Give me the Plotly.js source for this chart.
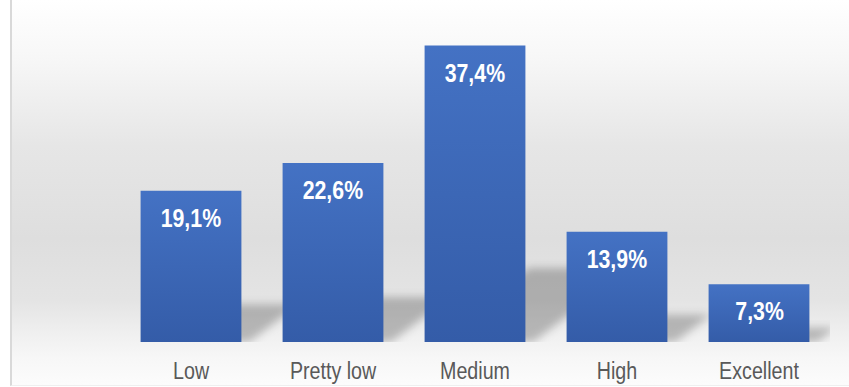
<!DOCTYPE html>
<html>
<head>
<meta charset="utf-8">
<script src="https://cdn.plot.ly/plotly-3.0.1.min.js"></script>
<style>
  html, body { margin: 0; padding: 0; background: #ffffff; }
  #bg {
    position: absolute; left: 10px; top: 0; width: 837px; height: 385px;
    border-left: 2px solid #d9d9d9; border-bottom: 1px solid #efefef;
    background: linear-gradient(to bottom, #ffffff 0%, #f7f7f7 15%, #e6e6e6 38%, #dedede 62%, #e4e4e4 78%, #f0f0f0 87%, #f7f7f7 93%, #fcfcfc 100%);
  }
  #chart { position: absolute; left: 0; top: 0; width: 849px; height: 387px; }
</style>
</head>
<body>
<div id="bg"></div>
<div id="chart"></div>
<script>
const categories = ["Low", "Pretty low", "Medium", "High", "Excellent"];
const values = [19.1, 22.6, 37.4, 13.9, 7.3];

const FONT = "'Liberation Sans', Arial, sans-serif";
const NARROW = 0.82;
const fmt = v => v.toFixed(1).replace('.', ',') + '%';

const trace = {
  type: 'bar',
  x: categories,
  y: values,
  marker: { color: '#3d69b9', line: { width: 0 } },
  hoverinfo: 'none'
};

const annotations = categories.map((c, i) => ({
  x: c, y: values[i], xref: 'x', yref: 'y',
  text: fmt(values[i]), showarrow: false,
  yanchor: 'top', xanchor: 'center', yshift: -10,
  font: { family: FONT, size: 26, color: '#ffffff', weight: 'bold' }
}));

const layout = {
  width: 849, height: 387,
  margin: { l: 120, r: 19, t: 25, b: 45 },
  paper_bgcolor: 'rgba(0,0,0,0)',
  plot_bgcolor: 'rgba(0,0,0,0)',
  bargap: 0.29,
  showlegend: false,
  xaxis: {
    showgrid: false, zeroline: false, showline: false, ticks: '',
    tickfont: { family: FONT, size: 24, color: '#595959' },
    ticklabelstandoff: 12
  },
  yaxis: {
    range: [0, 40], showgrid: false, zeroline: false, showline: false,
    showticklabels: false, ticks: ''
  },
  annotations: annotations
};

function narrowText(el) {
  const b = el.getBBox();
  const cx = b.x + b.width / 2;
  const prev = el.getAttribute('transform') || '';
  el.setAttribute('transform', `${prev} translate(${cx},0) scale(${NARROW},1) translate(${-cx},0)`.trim());
}

Plotly.newPlot('chart', [trace], layout, { staticPlot: true, displayModeBar: false }).then(gd => {
  const svgNS = 'http://www.w3.org/2000/svg';
  const svg = gd.querySelector('svg.main-svg');
  let defs = svg.querySelector('defs');
  if (!defs) { defs = document.createElementNS(svgNS, 'defs'); svg.insertBefore(defs, svg.firstChild); }
  const grad = document.createElementNS(svgNS, 'linearGradient');
  grad.setAttribute('id', 'barGrad');
  grad.setAttribute('x1', '0'); grad.setAttribute('y1', '0');
  grad.setAttribute('x2', '0'); grad.setAttribute('y2', '1');
  [['0%', '#4472c4'], ['100%', '#345ca8']].forEach(([o, c]) => {
    const s = document.createElementNS(svgNS, 'stop');
    s.setAttribute('offset', o); s.setAttribute('stop-color', c);
    grad.appendChild(s);
  });
  defs.appendChild(grad);
  const filt = document.createElementNS(svgNS, 'filter');
  filt.setAttribute('id', 'shBlur');
  filt.setAttribute('x', '-50%'); filt.setAttribute('y', '-50%');
  filt.setAttribute('width', '200%'); filt.setAttribute('height', '200%');
  const blur = document.createElementNS(svgNS, 'feGaussianBlur');
  blur.setAttribute('stdDeviation', '4');
  filt.appendChild(blur);
  defs.appendChild(filt);

  const paths = Array.from(svg.querySelectorAll('.barlayer .point path'));
  if (paths.length) {
    const container = paths[0].parentNode.parentNode;
    const shadows = [];
    paths.forEach(p => {
      p.style.fill = 'url(#barGrad)';
      const b = p.getBBox();
      const x0 = b.x, x1 = b.x + b.width, yT = b.y, yB = b.y + b.height;
      const H = yB - yT, h = 0.25 * H, s = 1.3, d = 8;
      const sp = document.createElementNS(svgNS, 'path');
      sp.setAttribute('d', `M${x0 + d},${yB} L${x1 + d},${yB} L${x1 + d + s * h},${yB - h} L${x0 + d + s * h},${yB - h} Z`);
      sp.setAttribute('fill', 'rgba(0,0,0,0.24)');
      sp.setAttribute('filter', 'url(#shBlur)');
      shadows.push(sp);
    });
    shadows.reverse().forEach(sp => container.insertBefore(sp, container.firstChild));
  }

  gd.querySelectorAll('.xtick text, .annotation-text').forEach(narrowText);
});
</script>
</body>
</html>
